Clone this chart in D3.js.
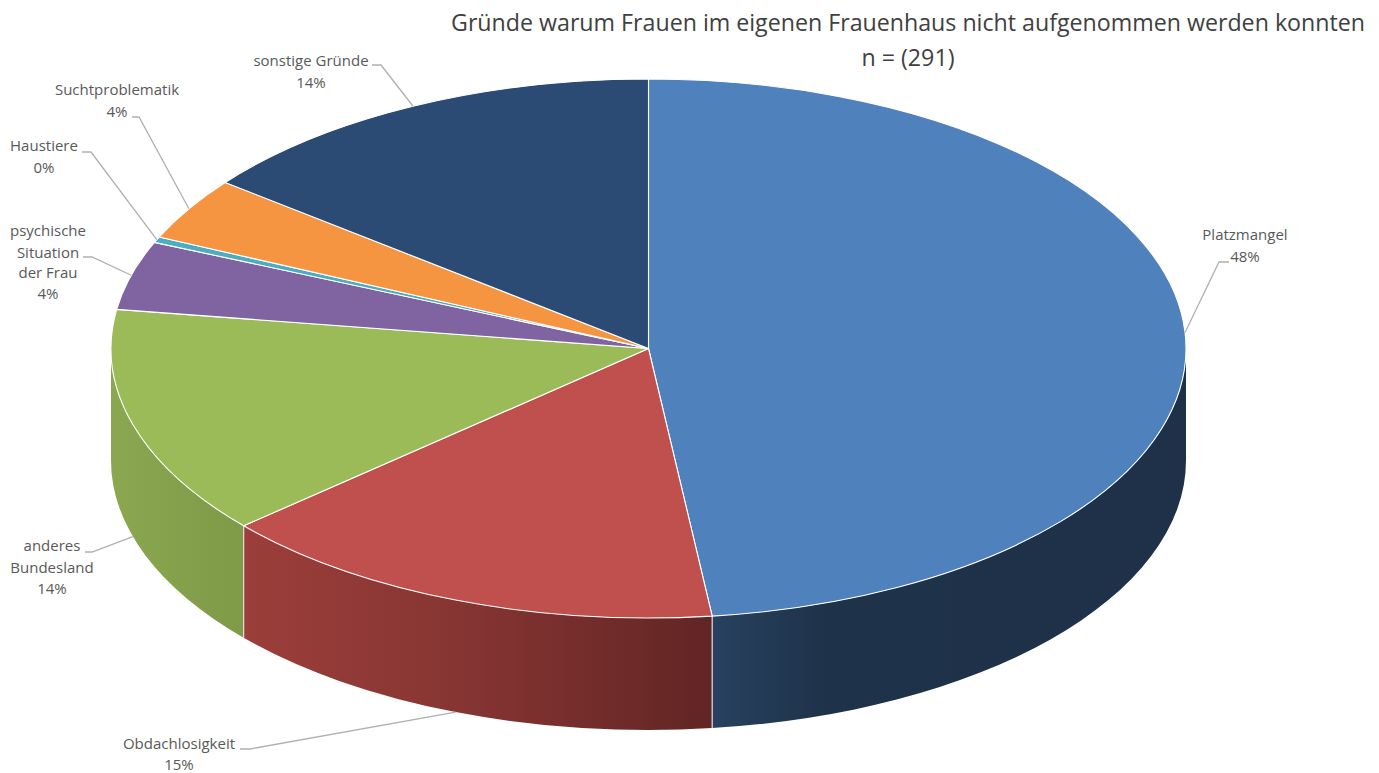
<!DOCTYPE html>
<html lang="de">
<head>
<meta charset="utf-8">
<title>Gründe warum Frauen im eigenen Frauenhaus nicht aufgenommen werden konnten</title>
<script src="https://cdn.jsdelivr.net/npm/d3@7/dist/d3.min.js"></script>
<style>
html,body{margin:0;padding:0;background:#fff;overflow:hidden}
svg{display:block}
text{font-family:"Open Sans",sans-serif}
</style>
</head>
<body>
<svg id="chart" width="1379" height="773"></svg>
<script>
// Data (n = 291)
const categories = ["Platzmangel","Obdachlosigkeit","anderes Bundesland","psychische Situation der Frau","Haustiere","Suchtproblematik","sonstige Gründe"];
const counts = [140,45,40,12,1,11,42];
const percentLabels = ["48%","15%","14%","4%","0%","4%","14%"];
const titleLines = ["Gründe warum Frauen im eigenen Frauenhaus nicht aufgenommen werden konnten","n = (291)"];

// Styling
const topColors = ["#4f81bd","#c0504d","#9bbb59","#8064a2","#4bacc6","#f59541","#2b4b74"];
const wallStops = {
  0:[[0,"#27415f"],[0.25,"#1e3249"],[1,"#1e3149"]],
  1:[[0,"#9c3e3a"],[0.5,"#843432"],[1,"#612523"]],
  2:[[0,"#8ba750"],[1,"#7f9a48"]]
};

// Layout of the label block (separate from the data)
const labelLayout = [
  {lines:["Platzmangel"], cx:1245, ys:[235,257], lead:[[1229,262],[1219,262]]},
  {lines:["Obdachlosigkeit"], cx:179, ys:[744,765], lead:[[240,749],[250,749]], front:true},
  {lines:["anderes","Bundesland"], cx:52, ys:[546,568,589], lead:[[85,552],[92,552]], front:true},
  {lines:["psychische","Situation","der Frau"], cx:48, ys:[231,253,273,294], lead:[[83,257],[92,257]]},
  {lines:["Haustiere"], cx:44, ys:[146,168], lead:[[82,152],[91,152]]},
  {lines:["Suchtproblematik"], cx:117, ys:[90,112], lead:[[132,117],[139,117]]},
  {lines:["sonstige Gründe"], cx:311, ys:[61,83], lead:[[372,65],[381,65]]}
];

const cx=648.5, cy=348.5, rx=537.5, ry=269.5, depth=112;
const svg=d3.select("#chart");
const pie=d3.pie().sort(null).value(d=>d)(counts);
const arc=d3.arc().innerRadius(0).outerRadius(rx);
const px=a=>cx+rx*Math.sin(a);
const py=a=>cy-ry*Math.cos(a);

const defs=svg.append("defs");
const Q=Math.PI/2;

// Walls: the part of each slice rim on the front half of the ellipse
const walls=pie.map((p,i)=>({i,a0:Math.max(p.startAngle,Q),a1:Math.min(p.endAngle,3*Q)})).filter(w=>w.a1>w.a0);
walls.forEach(w=>{
  const x0=px(w.a0),x1=px(w.a1);
  const lo=Math.min(x0,x1),hi=Math.max(x0,x1);
  const flip=w.i===0;
  const g=defs.append("linearGradient").attr("id","wall"+w.i).attr("gradientUnits","userSpaceOnUse")
    .attr("x1",lo).attr("x2",hi).attr("y1",0).attr("y2",0);
  (wallStops[w.i]||[[0,topColors[w.i]],[1,topColors[w.i]]]).forEach(s=>g.append("stop").attr("offset",s[0]).attr("stop-color",s[1]));
});
svg.append("g").selectAll("path").data(walls).join("path")
  .attr("fill",w=>`url(#wall${w.i})`)
  .attr("d",w=>`M${px(w.a0)},${py(w.a0)}A${rx},${ry} 0 0 1 ${px(w.a1)},${py(w.a1)}`+
    `L${px(w.a1)},${py(w.a1)+depth}A${rx},${ry} 0 0 0 ${px(w.a0)},${py(w.a0)+depth}Z`);
// Light seams between walls
svg.append("g").selectAll("line").data(walls.slice(1)).join("line")
  .attr("x1",w=>px(w.a0)).attr("x2",w=>px(w.a0))
  .attr("y1",w=>py(w.a0)).attr("y2",w=>py(w.a0)+depth)
  .attr("stroke","#e6dcdc").attr("stroke-width",1.2);

// Top face
svg.append("g").attr("transform",`translate(${cx},${cy}) scale(1,${ry/rx})`)
  .selectAll("path").data(pie).join("path")
  .attr("d",arc)
  .attr("fill",(d,i)=>topColors[i])
  .attr("stroke","#fff").attr("stroke-width",1.1).attr("stroke-linejoin","round")
  .attr("vector-effect","non-scaling-stroke");

// Leader lines, anchored on each slice's mid-angle
const lineGen=d3.line();
svg.append("g").selectAll("path").data(pie).join("path")
  .attr("fill","none").attr("stroke","#b0b0b0").attr("stroke-width",1.3)
  .attr("d",(p,i)=>{
    const a=(p.startAngle+p.endAngle)/2, l=labelLayout[i];
    return lineGen([...l.lead,[px(a),py(a)+(l.front?depth:0)]]);
  });

// Labels
const lab=svg.append("g").attr("fill","#595959").attr("font-size",15).attr("text-anchor","middle");
labelLayout.forEach((l,i)=>{
  const rows=[...l.lines,percentLabels[i]];
  rows.forEach((t,j)=>{
    lab.append("text").attr("x",l.cx).attr("y",l.ys[j]).attr("dy","0.35em").text(t);
  });
});

// Title
svg.append("g").attr("fill","#404040").attr("font-size",23.2).attr("text-anchor","middle")
  .selectAll("text").data(titleLines).join("text")
  .attr("x",908).attr("y",(d,i)=>23+i*35).attr("dy","0.35em").text(d=>d);
</script>
</body>
</html>
